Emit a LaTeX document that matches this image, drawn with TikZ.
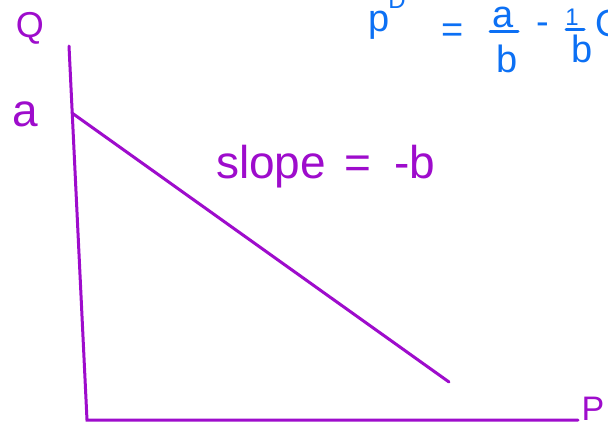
\documentclass[tikz,border=0pt]{standalone}
\usepackage{fontspec}
\setmainfont{Liberation Sans}
\definecolor{ink}{RGB}{158,12,204}
\definecolor{blueink}{RGB}{12,112,244}
\begin{document}
\begin{tikzpicture}[x=1pt,y=-1pt,
  pen/.style={draw=ink,line width=3pt,line cap=round},
  bpen/.style={draw=blueink,line width=3pt,line cap=round},
  lbl/.style={text=ink,inner sep=0pt,anchor=base},
  blbl/.style={text=blueink,inner sep=0pt,anchor=base}]
\useasboundingbox (0,0) rectangle (608,424);
\clip (0,0) rectangle (608,424);
\fill[white] (0,0) rectangle (608,424);
% axes
\coordinate (qtop) at (69,46);
\coordinate (origin) at (87,420);
\coordinate (pend) at (578,420);
\coordinate (dstart) at (72,113);
\coordinate (dend) at (449,382);
\draw[pen] (qtop) -- (origin) -- (pend);
\draw[pen] (dstart) -- (dend);
% labels
\node[lbl,font=\fontsize{36}{40}\selectfont] (qlab) at (30,37) {Q};
\node[lbl,font=\fontsize{46}{50}\selectfont] (alab) at (25,126) {a};
\node[lbl,font=\fontsize{34}{38}\selectfont,text height=24pt,text depth=0pt] (plab) at (593,420) {P};
\node[lbl,anchor=base west,font=\fontsize{46}{50}\selectfont] (slope) at (216,178) {slope\hspace{6pt} =\hspace{10pt} -b};
% formula
\node[blbl,font=\fontsize{38}{42}\selectfont] (fp) at (379,31) {p};
\node[blbl,font=\fontsize{24}{28}\selectfont] (fD) at (397,8) {D};
\node[blbl,font=\fontsize{38}{42}\selectfont] (feq) at (453,42) {=};
\node[blbl,font=\fontsize{38}{42}\selectfont,text height=20pt,text depth=0pt] (fa) at (503,27) {a};
\coordinate (bar1l) at (490,31);
\coordinate (bar1r) at (518,31);
\draw[bpen] (bar1l) -- (bar1r);
\node[blbl,font=\fontsize{38}{42}\selectfont] (fb) at (507,72) {b};
\node[blbl,font=\fontsize{38}{42}\selectfont] (fminus) at (543,34) {-};
\node[blbl,font=\fontsize{24}{28}\selectfont] (fone) at (572,25) {1};
\coordinate (bar2l) at (566,29);
\coordinate (bar2r) at (584,29);
\draw[bpen] (bar2l) -- (bar2r);
\node[blbl,font=\fontsize{38}{42}\selectfont] (fb2) at (582,62) {b};
\node[blbl,anchor=base west,font=\fontsize{38}{42}\selectfont] (fQ) at (595,36) {Q};
\end{tikzpicture}
\end{document}
